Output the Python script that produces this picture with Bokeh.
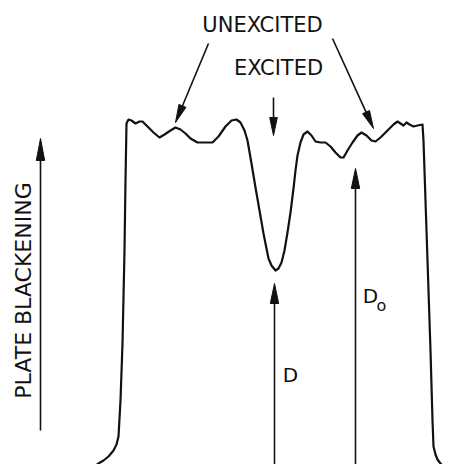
from bokeh.plotting import figure
from bokeh.models import Range1d, Label
from bokeh.embed import file_html
from bokeh.resources import INLINE
import math

# ---- data: densitometer trace (position along plate, blackening) ----
position = [94, 98, 103, 108, 113, 116, 118, 120, 122, 124, 125, 126,
            128, 131, 135, 139, 142, 147, 153, 159, 164, 170, 175, 180,
            185, 190, 197, 205, 212, 218, 225, 231, 236,
            240, 244, 247, 251, 255, 259, 263, 266, 268, 271, 275,
            278, 281, 284, 287, 290, 293, 295, 297, 300, 303, 307,
            311, 315, 320, 325, 330, 335, 340, 343, 347, 352, 357,
            361, 366, 371, 375, 380, 387, 393, 397, 400, 403, 406,
            409, 413, 417, 422, 423, 425, 427, 430, 432, 433, 435,
            437, 440, 443]
blackening = [-2, 1, 4, 8, 14, 20, 28, 64, 121, 214, 284, 341,
              345, 344, 341, 343, 343, 338, 332, 327, 330, 334, 337, 335,
              331, 326, 322, 322, 322, 328, 338, 344, 345,
              342, 334, 324, 301, 277, 254, 231, 216, 206, 199, 194,
              196, 202, 214, 232, 252, 276, 294, 309, 322, 330, 333,
              329, 323, 322, 322, 318, 312, 307, 307, 314, 322, 329,
              332, 329, 324, 323, 327, 334, 340, 343, 341, 339, 342,
              340, 338, 339, 340, 324, 264, 204, 114, 44, 18, 10,
              5, 1, -2]

# annotation arrows: (x0, y0) -> (x1, y1), head length
arrow_x0 = [40, 273, 208, 332, 274, 355]
arrow_y0 = [34, 367, 421, 426, -5, -5]
arrow_x1 = [40, 273, 175, 373, 274, 355]
arrow_y1 = [326, 329, 342, 336, 181, 296]
arrow_len = [22, 18, 18, 18, 20, 20]
arrow_hw = [4.2, 3.8, 3.8, 3.8, 4.2, 4.2]

INK = "#111111"
FONT = "DejaVu Sans"

p = figure(width=454, height=464, x_range=Range1d(0, 454), y_range=Range1d(0, 464),
           output_backend="svg", toolbar_location=None, min_border=0,
           x_axis_location=None, y_axis_location=None)
p.grid.visible = False
p.outline_line_color = None
p.background_fill_color = "white"
p.border_fill_color = "white"

p.line(position, blackening, line_color=INK, line_width=2.2, line_join="round")

# arrows
sx0, sy0, sx1, sy1, hx, hy = [], [], [], [], [], []
for x0, y0, x1, y1, L, w in zip(arrow_x0, arrow_y0, arrow_x1, arrow_y1, arrow_len, arrow_hw):
    dx, dy = x1 - x0, y1 - y0
    n = math.hypot(dx, dy)
    ux, uy = dx / n, dy / n
    bx, by = x1 - L * ux, y1 - L * uy
    sx0.append(x0); sy0.append(y0); sx1.append(bx + 2 * ux); sy1.append(by + 2 * uy)
    hx.append([x1, bx - w * uy, bx + w * uy])
    hy.append([y1, by + w * ux, by - w * ux])
p.segment(sx0, sy0, sx1, sy1, line_color=INK, line_width=1.6)
p.patches(hx, hy, fill_color=INK, line_color=INK, line_width=1)

def lab(x, y, t, size, angle=0.0):
    p.add_layout(Label(x=x, y=y, text=t, text_font=FONT, text_font_size=f"{size}px",
                       text_color=INK, text_align="center", text_baseline="middle",
                       angle=angle))

lab(262, 440, "UNEXCITED", 21)
lab(278, 397, "EXCITED", 21)
lab(23, 174, "PLATE BLACKENING", 22, angle=math.pi / 2)
lab(290, 90, "D", 20)
lab(370, 169, "D", 20)
lab(381, 159, "o", 16)

open("out.html", "w").write(file_html(p, INLINE))
